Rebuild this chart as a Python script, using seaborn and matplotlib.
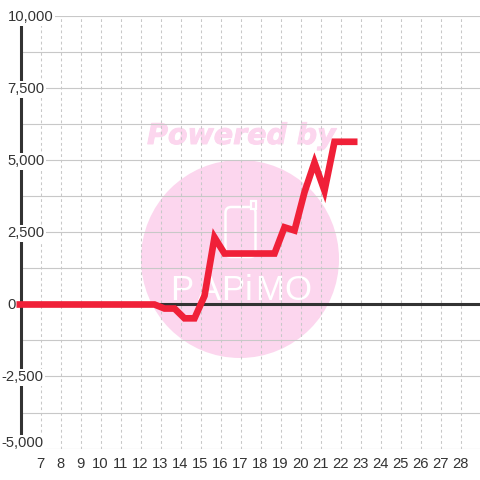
import matplotlib
matplotlib.use("Agg")
import matplotlib.pyplot as plt
import matplotlib.font_manager as fm
import matplotlib.patheffects as pe
import pandas as pd
import seaborn as sns
from matplotlib.patches import Circle, FancyBboxPatch, Rectangle
from matplotlib.ticker import MultipleLocator
from matplotlib.transforms import blended_transform_factory

hours = [5.8, 7.7, 8.7, 9.7, 10.7, 11.7, 12.7, 13.2, 13.7, 14.2, 14.7, 15.2, 15.7,
         16.2, 16.7, 17.7, 18.7, 19.2, 19.7, 20.2, 20.7, 21.2, 21.7, 22.2, 22.85]
profit = [0, 0, 0, 0, 0, 0, 0, -140, -140, -480, -480, 300, 2330,
          1770, 1770, 1770, 1770, 2680, 2570, 3900, 4930, 3950, 5650, 5650, 5650]
x_ticks = list(range(7, 29))
y_major = [-5000, -2500, 0, 2500, 5000, 7500, 10000]

INK = "#333333"
GRID = "#c8c8c8"
RED = "#f02038"
PINK = "#fcd6ee"

sns.set_theme(style="white", rc={"font.family": ["Liberation Sans", "DejaVu Sans"]})
fig = plt.figure(figsize=(4.8, 4.8), dpi=100, facecolor="white")
ax = fig.add_axes([20.5 / 480, 1 - 448.5 / 480, 460 / 480, 432 / 480])
ax.set_xlim(6, 29)
ax.set_ylim(-5000, 10000)
ax.set_facecolor("white")


def P(x, y):
    return x / 480, 1 - y / 480


# Watermark, placed in picture pixels
ft = fig.transFigure
ax.add_patch(Circle(P(240, 259), 99 / 480, transform=ft, fc=PINK, ec="none", zorder=0))
ax.add_patch(FancyBboxPatch(P(225.5, 257), 30 / 480, 50 / 480,
                            boxstyle="round,pad=0,rounding_size=0.012",
                            transform=ft, fc="none", ec="white", lw=1.8, zorder=0.5))
ax.add_patch(Rectangle(P(251, 209), 5 / 480, 8 / 480, transform=ft, fc=PINK, ec="white", lw=1.6, zorder=0.6))
ax.text(*P(241.5, 136), "Powered by", transform=ft, ha="center", va="center",
        fontsize=20.5, fontweight="bold", style="italic", family="DejaVu Sans", color=PINK, zorder=0.5,
        path_effects=[pe.withStroke(linewidth=0.7, foreground=PINK)])
names = {f.name for f in fm.fontManager.ttflist}
logo_font = "Liberation Sans Narrow" if "Liberation Sans Narrow" in names else "Liberation Sans"
for ch, xp in zip("PAPiMO", [182, 209, 233, 248, 270, 298]):
    ax.text(*P(xp, 291), ch, transform=ft, ha="center", va="center",
            fontsize=25, family=logo_font, color="white", zorder=0.5)

ax.xaxis.set_major_locator(plt.FixedLocator(x_ticks))
ax.yaxis.set_major_locator(MultipleLocator(2500))
ax.yaxis.set_minor_locator(MultipleLocator(1250))
ax.grid(True, axis="y", which="both", color=GRID, lw=0.8)
ax.grid(True, axis="x", which="major", color=GRID, lw=0.75, ls=(0, (2.7, 2.7)))
ax.set_axisbelow(False)

ax.axhline(0, color=INK, lw=2.2, zorder=3)
df = pd.DataFrame({"hour": hours, "profit": profit})
sns.lineplot(data=df, x="hour", y="profit", color=RED, linewidth=4.8, ax=ax, zorder=7,
             solid_joinstyle="miter", solid_capstyle="butt", errorbar=None, estimator=None,
             clip_on=False)
ax.set_xlabel("")
ax.set_ylabel("")

for s in ["top", "right", "bottom"]:
    ax.spines[s].set_visible(False)
ax.spines["left"].set_color(INK)
ax.spines["left"].set_linewidth(2.2)
ax.spines["left"].set_zorder(5)
ax.tick_params(axis="both", which="both", length=0)
ax.tick_params(axis="x", labelsize=10.6, labelcolor=INK, pad=6)
ax.tick_params(axis="y", labelleft=False)

# Value labels sit on white plates that interrupt the axis line and the grid
tr = blended_transform_factory(ft, ax.transData)
for v in y_major:
    text = f"{v:,}"
    if v < 0:
        xpos, ha = 43.5 / 480, "right"
    else:
        xpos, ha = 7.5 / 480, "left"
    ypos = v + 180 if v == -5000 else v - 30
    ax.text(xpos, ypos, text, transform=tr, ha=ha, va="center", fontsize=10.6, color=INK,
            zorder=6, clip_on=False, bbox=dict(fc="white", ec="none", pad=1))

fig.savefig("out.png", dpi=100, facecolor="white")
